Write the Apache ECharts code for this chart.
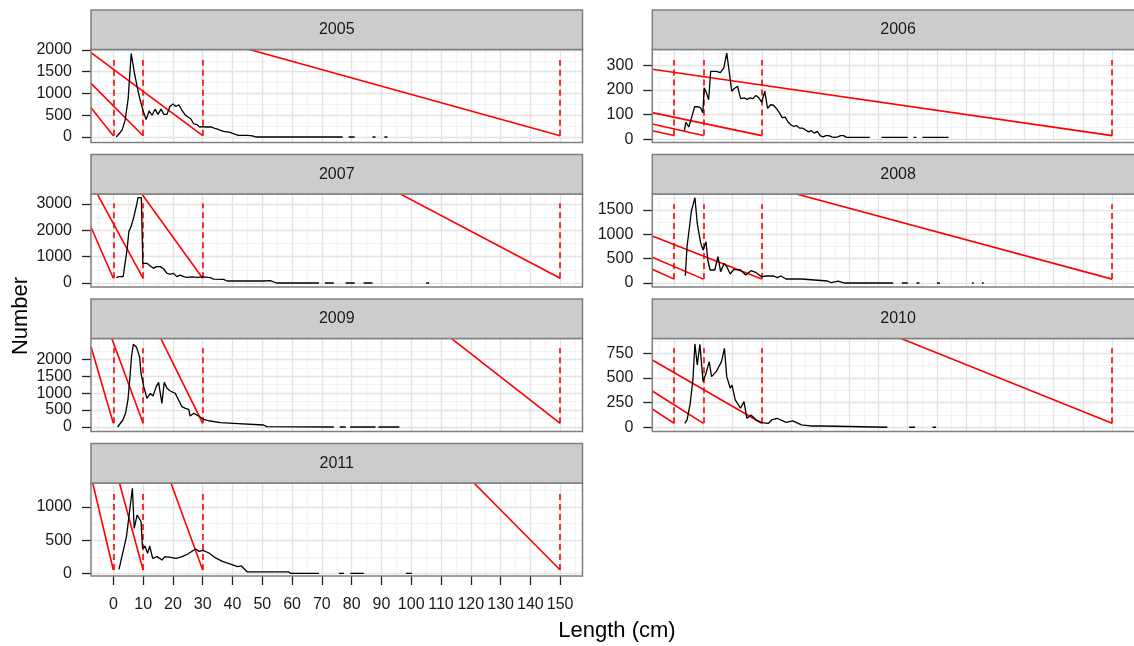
<!DOCTYPE html>
<html><head><meta charset="utf-8">
<script src="https://cdn.jsdelivr.net/npm/echarts@6/dist/echarts.min.js"></script>
<style>html,body{margin:0;padding:0;background:#fff;overflow:hidden}#c{width:1134px;height:646px}</style>
</head><body><div id="c"></div>
<script>
// ---------- data ----------
const years = ['2005','2006','2007','2008','2009','2010','2011'];
const xTicks = [0,10,20,30,40,50,60,70,80,90,100,110,120,130,140,150];
const xMinor = [-5,5,15,25,35,45,55,65,75,85,95,105,115,125,135,145,155];
const cutLengths = [0,10,30,150];

const num2005 = [[1,0],[2,80],[3,170],[4,400],[5,900],[6,1920],[7,1500],[8,1150],[9,850],[10,600],[11,400],[12,600],[13,500],[14,640],[15,520],[16,640],[17,520],[18,520],[19,700],[20,760],[21,700],[22,740],[23,620],[24,520],[25,460],[26,420],[27,300],[28,290],[29,230],[30,240],[31,230],[32,230],[33,230],[34,200],[35,180],[36,150],[37,130],[38,120],[39,110],[40,85],[41,60],[42,40],[45,40],[46,30],[47,20],[48,0],[77,0],[78,'-'],[79,0],[81,0],[82,'-'],[87,0],[88,0],[89,'-'],[91,0],[92,0]];
const num2006 = [[3.5,35],[4,70],[5,50],[6,90],[7,132],[8,132],[9,128],[9.8,108],[10.3,209],[11,190],[11.8,160],[12.5,275],[13,278],[14.5,275],[15.8,270],[17,290],[18,349],[19,260],[19.7,195],[20.5,205],[21.7,215],[22.3,185],[22.8,165],[24,168],[25,162],[26,168],[27,165],[28,178],[29,168],[30,150],[31,195],[32,125],[33,140],[34,138],[35,125],[36,108],[37,88],[38,90],[39,70],[40,58],[41,52],[42,55],[43,45],[44,45],[45,38],[46,30],[47,35],[48,25],[49,32],[50,15],[51,10],[52,15],[53,15],[54,10],[55,8],[56,10],[57,15],[58,15],[59,8],[67,8],[68,'-'],[71,8],[80,8],[81,'-'],[82,8],[83,8],[84,'-'],[85,8],[94,8]];
const num2007 = [[1,200],[2,240],[3.3,240],[4,800],[4.6,1250],[5.2,1940],[6,2160],[6.9,2510],[7.8,2955],[8.3,3230],[9.4,3230],[9.9,745],[11.3,745],[12.4,645],[13.5,555],[14.4,620],[15.8,620],[16.9,530],[18,365],[19.1,340],[20.2,365],[21.3,240],[22.4,300],[23.6,240],[24.7,215],[26.4,230],[28.1,215],[30.3,230],[32.5,200],[33.7,150],[37,140],[38.2,75],[50.4,75],[52.7,90],[54.8,0],[69,0],[70,'-'],[71,0],[74,0],[75,'-'],[78,0],[81,0],[82,'-'],[84,0],[87,0],[88,'-'],[105,0],[106,0]];
const num2008 = [[3.8,150],[4.4,746],[5.9,1479],[7.1,1753],[7.9,1227],[9.1,815],[9.9,678],[10.9,849],[11.5,473],[12.3,267],[13.9,267],[15,541],[15.9,233],[17.1,404],[18,336],[19.2,185],[20.4,281],[22.7,267],[24.5,164],[26.3,253],[28.1,212],[29.9,130],[31.7,144],[34.1,144],[35.3,110],[36.5,144],[38.3,82],[43.6,82],[44.2,41],[52.5,41],[53.7,7],[56.1,41],[58.5,0],[75,0],[76,'-'],[78,0],[80,0],[81,'-'],[83,0],[84,0],[85,'-'],[90,0],[91,0],[92,'-'],[102,0],[102.6,0],[103,'-'],[105.4,0],[106,0]];
const num2009 = [[1.4,0],[3.2,207],[4.1,404],[4.9,798],[5.5,1388],[6.1,2077],[6.7,2442],[7.8,2353],[8.8,2077],[9.3,1585],[10.2,1191],[11.3,847],[12.4,994],[13.3,916],[14.4,1191],[15.2,1319],[16.3,699],[17.1,1319],[18,1142],[19.1,1063],[20.8,994],[21.9,798],[23,601],[24.2,552],[25.3,522],[25.8,325],[27,404],[28.6,325],[30.3,227],[32.5,177],[35.9,128],[40.4,108],[41,59],[50.4,59],[51.5,10],[52,0],[74,0],[75,'-'],[76,0],[78,0],[79,'-'],[79.5,0],[88,0],[88.5,'-'],[89,0],[96,0]];
const num2010 = [[3.6,40],[4.4,74],[5.5,243],[6.4,480],[7.1,845],[7.9,632],[8.8,841],[9.9,463],[10.9,547],[12,665],[12.8,513],[14.4,564],[16.2,665],[17.2,800],[18,513],[19.2,395],[19.8,429],[20.9,277],[22.7,193],[23.9,260],[24.9,91],[26.3,125],[28.1,74],[29.9,47],[32.3,40],[33.4,74],[35.3,91],[36.5,74],[38.3,50],[40.6,64],[43.6,24],[46.6,13],[50.7,13],[51.3,0],[73,0],[74,'-'],[80.5,0],[82.5,0],[83,'-'],[88.5,0],[89.7,0]];
const num2011 = [[1.9,63],[4.4,554],[5.5,955],[6.4,1281],[7,679],[8,880],[9.3,779],[9.8,378],[10.6,413],[11.5,303],[12.2,413],[13.2,228],[14.7,253],[16.3,203],[17.3,253],[19.2,243],[21.1,228],[23.1,253],[25,293],[27.6,368],[28.8,333],[30.1,348],[32.1,308],[34,243],[36.6,183],[39.1,143],[41.7,103],[43,113],[44.9,25],[57.1,25],[57.7,5],[58.7,25],[59.7,0],[69,0],[70,'-'],[75.7,0],[77.4,0],[78,'-'],[79.6,0],[84.1,0],[85,'-'],[98.2,0],[100.2,0]];

// red diagonal segments: [x1, y1, x2, y2]
const segs2005 = [[-7.5,674,0,30],[-7.5,1234,10,30],[-7.5,1938,30,30],[40,2119,150,30]];
const segs2006 = [[-7.5,35,0,15],[-7.5,62,10,15],[-7.5,108,30,15],[-7.5,284,150,15]];
const segs2007 = [[-7.5,2110,0,178],[-6.5,3600,10,178],[8.1,3600,30,178],[92.5,3600,150,178]];
const segs2008 = [[-7.5,281,0,80],[-7.5,528,10,80],[-7.5,966,30,80],[31.3,2000,150,80]];
const segs2009 = [[-7.5,2372,0,109],[-1.3,2800,10,109],[14.9,2800,30,109],[110.8,2800,150,109]];
const segs2010 = [[-7.5,185,0,40],[-7.5,368,10,40],[-7.5,682,30,40],[69.3,1000,150,40]];
const segs2011 = [[-7.66,1500,0,53],[1.2,1500,10,53],[18.2,1500,30,53],[118,1500,150,53]];

// dashed vertical cut lines: [bottom, top]
const dash2005 = [30,1770];
const dash2006 = [15,321];
const dash2007 = [178,3020];
const dash2008 = [80,1617];
const dash2009 = [109,2325];
const dash2010 = [40,800];
const dash2011 = [53,1206];

// y tick labels and minor grid values
const yTicks2005 = [0,500,1000,1500,2000];   const yMinor2005 = [250,750,1250,1750];
const yTicks2006 = [0,100,200,300];          const yMinor2006 = [50,150,250,350];
const yTicks2007 = [0,1000,2000,3000];       const yMinor2007 = [500,1500,2500];
const yTicks2008 = [0,500,1000,1500];        const yMinor2008 = [250,750,1250,1750];
const yTicks2009 = [0,500,1000,1500,2000];   const yMinor2009 = [250,750,1250,1750,2250];
const yTicks2010 = [0,250,500,750];          const yMinor2010 = [125,375,625,875];
const yTicks2011 = [0,500,1000];             const yMinor2011 = [250,750,1250];

// ---------- layout ----------
const COLS = [91, 652.3], PW = 491.5;
const ROWS = [10, 154.5, 299, 443.5], SH = 39.5, PH = 93;
const FONT = '"Liberation Sans", Arial, sans-serif';

const panels = [
  {year:years[0], data:num2005, segs:segs2005, dash:dash2005, ticks:yTicks2005, minor:yMinor2005, min:-126, max:2011, col:0, row:0},
  {year:years[1], data:num2006, segs:segs2006, dash:dash2006, ticks:yTicks2006, minor:yMinor2006, min:-13, max:364, col:1, row:0},
  {year:years[2], data:num2007, segs:segs2007, dash:dash2007, ticks:yTicks2007, minor:yMinor2007, min:-152, max:3371, col:0, row:1},
  {year:years[3], data:num2008, segs:segs2008, dash:dash2008, ticks:yTicks2008, minor:yMinor2008, min:-82, max:1829, col:1, row:1},
  {year:years[4], data:num2009, segs:segs2009, dash:dash2009, ticks:yTicks2009, minor:yMinor2009, min:-133, max:2614, col:0, row:2},
  {year:years[5], data:num2010, segs:segs2010, dash:dash2010, ticks:yTicks2010, minor:yMinor2010, min:-43, max:900, col:1, row:2},
  {year:years[6], data:num2011, segs:segs2011, dash:dash2011, ticks:yTicks2011, minor:yMinor2011, min:-38, max:1361, col:0, row:3, bottom:true}
];

const plain = v => String(v);
const grid = [], xAxis = [], yAxis = [], series = [], graphic = [];
panels.forEach((p, i) => {
  const left = COLS[p.col], stripTop = ROWS[p.row], top = stripTop + SH;
  grid.push({left: left, top: top, width: PW, height: PH, show: false});
  xAxis.push({
    type: 'value', gridIndex: i, min: -7.5, max: 157.5,
    axisLine: {show: false, onZero: false}, splitLine: {show: false},
    axisTick: {show: !!p.bottom, customValues: xTicks, length: 9, lineStyle: {color: '#222', width: 1.3}},
    axisLabel: {show: !!p.bottom, customValues: xTicks, interval: 0, margin: 21, fontSize: 16, color: '#1a1a1a', fontFamily: FONT, formatter: plain}
  });
  yAxis.push({
    type: 'value', gridIndex: i, min: p.min, max: p.max,
    axisLine: {show: false, onZero: false}, splitLine: {show: false},
    axisTick: {show: true, customValues: p.ticks, length: 9, lineStyle: {color: '#222', width: 1.3}},
    axisLabel: {customValues: p.ticks, margin: 19, fontSize: 16, color: '#1a1a1a', fontFamily: FONT, padding: [8,0,0,0], formatter: plain}
  });
  const ml = [];
  xMinor.forEach(v => ml.push({xAxis: v, lineStyle: {color: '#f3f3f3', width: 1, type: 'solid'}}));
  p.minor.forEach(v => ml.push({yAxis: v, lineStyle: {color: '#f3f3f3', width: 1, type: 'solid'}}));
  xTicks.forEach(v => ml.push({xAxis: v, lineStyle: {color: '#e3e3e3', width: 1.4, type: 'solid'}}));
  p.ticks.forEach(v => ml.push({yAxis: v, lineStyle: {color: '#e3e3e3', width: 1.4, type: 'solid'}}));
  series.push({
    type: 'line', xAxisIndex: i, yAxisIndex: i, data: [], z: 1, silent: true, animation: false,
    markLine: {z: 1, silent: true, symbol: ['none','none'], label: {show: false}, animation: false, data: ml}
  });
  series.push({
    type: 'lines', coordinateSystem: 'cartesian2d', xAxisIndex: i, yAxisIndex: i, z: 3, silent: true, clip: true, animation: false,
    lineStyle: {color: '#ff0000', width: 1.6, opacity: 1},
    data: p.segs.map(s => ({coords: [[s[0], s[1]], [s[2], s[3]]]}))
  });
  series.push({
    type: 'lines', coordinateSystem: 'cartesian2d', xAxisIndex: i, yAxisIndex: i, z: 3, silent: true, clip: true, animation: false,
    lineStyle: {color: '#ff0000', width: 1.6, opacity: 1, type: [6, 4]},
    data: cutLengths.map(x => ({coords: [[x, p.dash[0]], [x, p.dash[1]]]}))
  });
  series.push({
    type: 'line', xAxisIndex: i, yAxisIndex: i, z: 4, silent: true, animation: false, clip: true,
    data: p.data, showSymbol: false, symbol: 'none', connectNulls: false,
    lineStyle: {color: '#000', width: 1.3}
  });
  graphic.push({type: 'rect', z: 100, silent: true, shape: {x: left, y: top, width: PW, height: PH},
    style: {fill: 'none', stroke: '#7f7f7f', lineWidth: 1.5}});
  graphic.push({type: 'rect', z: 100, silent: true, shape: {x: left, y: stripTop, width: PW, height: SH},
    style: {fill: '#cccccc', stroke: '#7f7f7f', lineWidth: 1.5}});
  graphic.push({type: 'text', z: 101, silent: true, x: left + PW / 2, y: stripTop + SH / 2,
    style: {text: p.year, align: 'center', verticalAlign: 'middle', textAlign: 'center', textVerticalAlign: 'middle',
      font: '16px ' + FONT, fill: '#1a1a1a'}});
});

graphic.push({type: 'text', z: 101, silent: true, x: 21, y: 316, rotation: Math.PI / 2,
  style: {text: 'Number', align: 'center', verticalAlign: 'middle', textAlign: 'center', textVerticalAlign: 'middle', font: '22px ' + FONT, fill: '#000'}});
graphic.push({type: 'text', z: 101, silent: true, x: 617, y: 631,
  style: {text: 'Length (cm)', align: 'center', verticalAlign: 'middle', textAlign: 'center', textVerticalAlign: 'middle', font: '22px ' + FONT, fill: '#000'}});

const chart = echarts.init(document.getElementById('c'));
chart.setOption({animation: false, grid, xAxis, yAxis, series, graphic});
</script>
</body></html>
